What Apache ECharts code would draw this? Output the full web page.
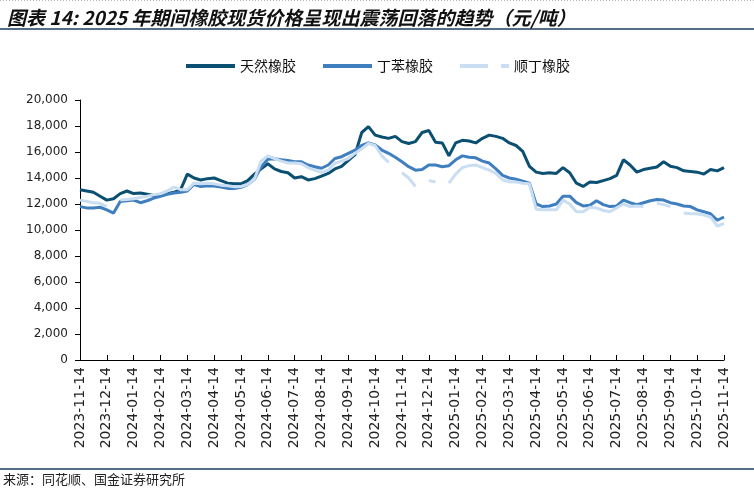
<!DOCTYPE html>
<html>
<head>
<meta charset="utf-8">
<script src="https://cdn.jsdelivr.net/npm/echarts@6/dist/echarts.min.js"></script>
<style>
html,body{margin:0;padding:0;background:#fff;}
#chart{width:754px;height:495px;}
</style>
</head>
<body>
<div id="chart"></div>
<script>
// Weekly sample dates (14th, 21st, 28th, 7th of next month), labels shown on the 14th
function buildDates() {
  const out = [];
  let y = 2023, m = 11;
  const p = n => (n < 10 ? '0' + n : '' + n);
  for (let k = 0; k < 24; k++) {
    out.push(y + '-' + p(m) + '-14');
    out.push(y + '-' + p(m) + '-21');
    out.push(y + '-' + p(m) + '-28');
    let ny = y, nm = m + 1;
    if (nm > 12) { nm = 1; ny++; }
    out.push(ny + '-' + p(nm) + '-07');
    y = ny; m = nm;
  }
  out.push('2025-11-14');
  return out;
}
const dates = buildDates();

const seriesNames = ['天然橡胶', '丁苯橡胶', '顺丁橡胶'];

const naturalRubber = [
  13100, 13000, 12900, 12600, 12300, 12400, 12800, 13000,
  12800, 12850, 12750, 12650, 12650, 12800, 12900, 13100,
  14300, 14000, 13850, 13950, 14000, 13800, 13600, 13550,
  13550, 13800, 14300, 14700, 15100, 14700, 14500, 14400,
  14000, 14100, 13850, 13950, 14150, 14350, 14700, 14900,
  15350, 15800, 17500, 17950, 17300, 17150, 17050, 17200,
  16800, 16650, 16800, 17500, 17650, 16750, 16700, 15700,
  16700, 16900, 16850, 16700, 17050, 17300, 17200, 17050,
  16700, 16500, 16050, 14900, 14450, 14350, 14400, 14350,
  14800, 14400, 13600, 13350, 13700, 13650, 13800, 13950,
  14200, 15400, 15000, 14450, 14650, 14750, 14850, 15250,
  14900, 14800, 14550, 14500, 14450, 14300, 14650, 14550,
  14800
];

const sbrRubber = [
  11800, 11700, 11700, 11750, 11550, 11300, 12200, 12250,
  12300, 12100, 12250, 12450, 12600, 12750, 12850, 12900,
  13000, 13500, 13350, 13400, 13380, 13300, 13200, 13200,
  13280, 13500, 13900, 14850, 15450, 15480, 15400, 15350,
  15250, 15250, 15000, 14870, 14750, 15000, 15500, 15640,
  15900, 16150, 16500, 16700, 16550, 16150, 15900, 15600,
  15250, 14870, 14600, 14650, 15000, 15000, 14870, 14950,
  15400, 15700, 15600, 15550, 15300, 15150, 14700, 14200,
  14000, 13900, 13750, 13600, 12000, 11800, 11850, 12000,
  12600, 12600, 12100, 11850, 11900, 12250, 11950, 11800,
  11850, 12300, 12100, 11950, 12100, 12250, 12350, 12300,
  12100, 12000, 11850, 11800, 11550, 11400, 11250, 10750,
  11000
];

const brRubber = [
  12300, 12200, 12100, 12050, 11800, null, 12300, 12350,
  12400, 12500, 12600, 12700, 12800, 13000, 13300, 13100,
  13100, 13600, 13550, 13600, 13550, 13450, 13400, 13330,
  13350, 13500, 13900, 15300, 15700, 15500, 15300, 15150,
  15150, 15100, 14800, 14600, 14420, 14600, 15130, 15300,
  15500, 15900, 16250, 16650, 16500, 15700, 15200, null,
  14400, 14000, 13350, null, 13800, 13700, null, 13600,
  14300, 14800, 14950, 15000, 14800, 14600, 14350, 13850,
  13720, 13700, 13600, 13550, 11600, 11550, 11550, 11550,
  12300, 12000, 11400, 11400, 11750, 11700, 11500, 11400,
  11700, 12000, 11800, 11850, 11800, null, 12050, 11950,
  11800, null, 11300, 11250, 11250, 11150, 11000, 10300,
  10500
];

const colors = ['#0b4f72', '#3f7fc0', '#c9def2'];

const chart = echarts.init(document.getElementById('chart'), null, { renderer: 'canvas' });

const showIdx = (i) => i % 4 === 0;

chart.setOption({
  animation: false,
  backgroundColor: '#ffffff',
  title: {
    text: '图表 14: 2025 年期间橡胶现货价格呈现出震荡回落的趋势（元/吨）',
    left: 2,
    top: 3,
    textStyle: {
      fontFamily: 'Noto Sans CJK SC',
      fontSize: 19,
      fontWeight: 'bold',
      fontStyle: 'italic',
      color: '#111'
    }
  },
  legend: {
    top: 54,
    left: 'center',
    itemWidth: 49,
    itemHeight: 12,
    itemGap: 25,
    textStyle: { fontFamily: 'Noto Sans CJK SC', fontSize: 14, color: '#111' },
    data: [
      { name: seriesNames[0], itemStyle: { opacity: 0 }, lineStyle: { width: 4 } },
      { name: seriesNames[1], itemStyle: { opacity: 0 }, lineStyle: { width: 4 } },
      { name: seriesNames[2], itemStyle: { opacity: 0 }, lineStyle: { width: 4, type: [28, 13, 8] } }
    ]
  },
  grid: { left: 80, right: 30, top: 100, bottom: 135, containLabel: false },
  xAxis: {
    type: 'category',
    data: dates,
    boundaryGap: false,
    axisLine: { lineStyle: { color: '#000', width: 1 } },
    axisTick: { inside: true, length: 5, interval: (i) => showIdx(i), lineStyle: { color: '#000' } },
    axisLabel: {
      interval: (i) => showIdx(i),
      rotate: 90,
      margin: 7,
      fontFamily: 'DejaVu Sans',
      fontSize: 14,
      color: '#222'
    },
    splitLine: { show: false }
  },
  yAxis: {
    type: 'value',
    min: 0,
    max: 20000,
    interval: 2000,
    axisLine: { show: true, lineStyle: { color: '#000', width: 1 } },
    axisTick: { show: true, length: 5, lineStyle: { color: '#000' } },
    axisLabel: {
      margin: 12,
      fontFamily: 'DejaVu Sans',
      fontSize: 12,
      color: '#222',
      formatter: (v) => v.toLocaleString('en-US')
    },
    splitLine: { show: false }
  },
  series: [
    { name: seriesNames[0], type: 'line', data: naturalRubber, symbol: 'none', color: colors[0], lineStyle: { width: 3, color: colors[0] }, z: 2 },
    { name: seriesNames[1], type: 'line', data: sbrRubber, symbol: 'none', color: colors[1], lineStyle: { width: 3, color: colors[1] }, z: 3 },
    { name: seriesNames[2], type: 'line', data: brRubber, symbol: 'none', connectNulls: false, color: colors[2], lineStyle: { width: 3, color: colors[2] }, z: 4 }
  ],
  graphic: [
    { type: 'line', shape: { x1: 0, y1: 0.5, x2: 754, y2: 0.5 }, style: { stroke: '#bbb', lineWidth: 1, lineDash: [1, 2] } },
    { type: 'line', shape: { x1: 0, y1: 29, x2: 754, y2: 29 }, style: { stroke: '#1d3e5a', lineWidth: 1.5 } },
    { type: 'line', shape: { x1: 0, y1: 469, x2: 754, y2: 469 }, style: { stroke: '#1d3e5a', lineWidth: 1.5 } },
    { type: 'text', left: 3, top: 473, style: { text: '来源：同花顺、国金证券研究所', font: '13px "Noto Sans CJK SC"', fill: '#222' } }
  ]
});
</script>
</body>
</html>
